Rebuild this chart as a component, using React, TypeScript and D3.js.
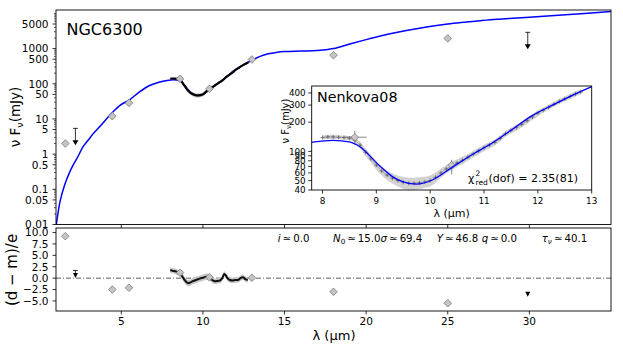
import React from 'react';
import * as d3 from 'd3';

// ---------- data ----------
const modelLam = [1.0, 1.1, 1.2, 1.35, 1.5, 1.65, 1.8, 2.0, 2.3, 2.65, 3.0, 3.3, 3.7, 4.1, 4.5, 4.9, 5.5, 6.1, 6.7, 7.3, 7.8, 8.2, 8.5, 8.7, 9.05, 9.3, 9.5, 9.75, 10.05, 10.4, 10.8, 11.15, 11.5, 11.9, 12.3, 12.65, 13.0, 13.5, 14.0, 14.5, 15.0, 16.0, 17.0, 18.0, 19.0, 20.0, 21.0, 22.0, 23.0, 24.0, 25.0, 26.0, 27.0, 28.0, 29.0, 30.0, 32.0, 34.0, 35.0];
const modelFlux = [0.009, 0.018, 0.035, 0.07, 0.12, 0.19, 0.28, 0.44, 0.78, 1.6, 2.6, 3.9, 6.2, 10.2, 16, 24, 35, 58, 88, 110, 124, 130, 125, 111, 72, 55, 48.5, 46, 51, 68, 94, 122, 165, 235, 305, 380, 465, 600, 710, 780, 820, 850, 880, 1000, 1350, 1800, 2350, 2950, 3600, 4300, 5000, 5600, 6200, 6800, 7300, 7800, 9000, 10500, 11300];

const specLam = [8.0, 8.1, 8.2, 8.3, 8.4, 8.5, 8.6, 8.7, 8.8, 8.9, 9.0, 9.1, 9.2, 9.3, 9.4, 9.5, 9.6, 9.7, 9.8, 9.9, 10.0, 10.1, 10.2, 10.3, 10.4, 10.5, 10.6, 10.7, 10.8, 10.9, 11.0, 11.1, 11.2, 11.3, 11.4, 11.5, 11.6, 11.7, 11.8, 11.9, 12.0, 12.1, 12.2, 12.3, 12.4, 12.5, 12.6, 12.7, 12.8];
const specFlux = [139, 141, 141, 140, 139, 137, 131, 116, 98, 84, 72, 63, 57, 53, 50, 48, 47, 47, 47.5, 48.5, 50, 54, 60, 66, 71, 76, 81, 87, 94, 101, 109, 116, 124, 136, 152, 164, 176, 190, 207, 226, 248, 266, 285, 306, 328, 348, 368, 392, 410];
const specErr = [0.05, 0.05, 0.05, 0.05, 0.05, 0.05, 0.06, 0.08, 0.09, 0.09, 0.1, 0.1, 0.11, 0.12, 0.13, 0.14, 0.14, 0.14, 0.14, 0.13, 0.13, 0.12, 0.11, 0.1, 0.1, 0.09, 0.09, 0.08, 0.08, 0.08, 0.08, 0.07, 0.07, 0.07, 0.07, 0.07, 0.07, 0.07, 0.07, 0.07, 0.07, 0.06, 0.06, 0.06, 0.06, 0.06, 0.06, 0.06, 0.06];

const resLam = [8.0, 8.15, 8.3, 8.45, 8.6, 8.75, 8.9, 9.0, 9.1, 9.2, 9.35, 9.5, 9.65, 9.8, 10.0, 10.2, 10.35, 10.5, 10.6, 10.75, 10.9, 11.05, 11.2, 11.3, 11.4, 11.5, 11.65, 11.8, 12.0, 12.15, 12.3, 12.45, 12.6, 12.75];
const resVal = [1.8, 1.6, 1.5, 1.3, 1.0, 0.3, -0.5, -0.9, -1.1, -1.0, -0.7, -0.5, -0.3, -0.1, 0.1, 0.3, 0.2, -0.2, -0.5, -0.7, -0.6, -0.5, 0.1, 0.9, 0.6, 0.0, -0.4, -0.5, -0.4, -0.4, 0.0, 0.2, -0.2, -0.4];
const resErr = [0.6, 0.6, 0.6, 0.6, 0.6, 0.7, 0.7, 0.7, 0.7, 0.7, 0.7, 0.7, 0.7, 0.7, 0.7, 0.7, 0.7, 0.6, 0.6, 0.6, 0.6, 0.6, 0.6, 0.6, 0.6, 0.6, 0.6, 0.6, 0.6, 0.6, 0.6, 0.6, 0.6, 0.6];

const photLam = [1.57, 4.45, 5.47, 8.6, 10.4, 13.0, 18.0, 25.0];
const photFlux = [2.0, 12.0, 28.6, 138, 72, 490, 650, 1950];
const photErr = [0.15, 1.8, 3.0, 10, 6, 30, 40, 120];
const photResid = [9.2, -2.5, -2.1, 1.2, 0.2, 0.1, -3.0, -5.5];

const ulLam = [2.19, 29.9];
const ulFlux = [5.4, 2900];
const ulResid = [0.6, -3.5];
const ulResidTop = [1.7, -3.5];

const insetPhotLam = [8.6, 10.4];
const insetPhotFlux = [140, 72];
const insetPhotXErr = [0.22, 0.0];
const insetPhotYLo = [116, 58];
const insetPhotYHi = [163, 82];

const mainYTicks = [0.01, 0.05, 0.1, 0.5, 1, 5, 10, 50, 100, 500, 1000, 5000];
const xTicks = [5, 10, 15, 20, 25, 30];
const residTicks = [-5, -2.5, 0, 2.5, 5, 7.5, 10];
const insetXTicks = [8, 9, 10, 11, 12, 13];
const insetYTicks = [40, 50, 60, 70, 80, 90, 100, 200, 300, 400];

// ---------- layout ----------
const W = 623, H = 346;
const L = 56, R = 611, T1 = 10, B1 = 224.5, T2 = 228, B2 = 311;
const IL = 311.7, IR = 591.7, IT = 86, IB = 190;
const FONT = 'DejaVu Sans, sans-serif';
const TICK_FS = 10.5;
const TS = '\u2009';

const x = d3.scaleLinear().domain([1, 35]).range([L, R]);
const yTop = d3.scaleLog().domain([0.01, 12500]).range([B1, T1]);
const yRes = d3.scaleLinear().domain([-7.2, 11]).range([B2, T2]);
const xIn = d3.scaleLinear().domain([7.8, 13]).range([IL, IR]);
const yIn = d3.scaleLog().domain([40, 472]).range([IB, IT]);

const diamond = (cx: number, cy: number, r = 3.8) =>
  `M${cx},${cy - r}L${cx + r},${cy}L${cx},${cy + r}L${cx - r},${cy}Z`;
const triDown = (cx: number, cy: number, w = 5, h = 5) =>
  `M${cx - w / 2},${cy - h / 2}L${cx + w / 2},${cy - h / 2}L${cx},${cy + h / 2}Z`;

const fmtLog = (v: number) => String(v);
const fmtRes = (v: number) => d3.format('.1f')(v).replace('-', '\u2212');

export default function App() {
  const model = modelLam.map((l, i) => [l, modelFlux[i]] as [number, number]);
  const spec = specLam.map((l, i) => ({ l, f: specFlux[i], e: specErr[i] }));
  const res = resLam.map((l, i) => ({ l, v: resVal[i], e: resErr[i] }));

  const modelLine = d3.line<[number, number]>().x(d => x(d[0])).y(d => yTop(d[1])).curve(d3.curveMonotoneX);
  const modelInLine = d3.line<[number, number]>().x(d => xIn(d[0])).y(d => yIn(d[1])).curve(d3.curveMonotoneX);
  const specLineMain = d3.line<any>().x(d => x(d.l)).y(d => yTop(d.f)).curve(d3.curveMonotoneX);
  const specBandMain = d3.area<any>().x(d => x(d.l)).y0(d => yTop(d.f * (1 - d.e))).y1(d => yTop(d.f * (1 + d.e))).curve(d3.curveMonotoneX);
  const specBandIn = d3.area<any>().x(d => xIn(d.l)).y0(d => yIn(d.f * (1 - d.e))).y1(d => yIn(d.f * (1 + d.e))).curve(d3.curveMonotoneX);
  const specLineIn = d3.line<any>().x(d => xIn(d.l)).y(d => yIn(d.f)).curve(d3.curveMonotoneX);
  const resLine = d3.line<any>().x(d => x(d.l)).y(d => yRes(d.v)).curve(d3.curveMonotoneX);
  const resBand = d3.area<any>().x(d => x(d.l)).y0(d => yRes(d.v - d.e)).y1(d => yRes(d.v + d.e)).curve(d3.curveMonotoneX);

  const minorTicks = yTop.ticks().filter(t => !mainYTicks.some(m => Math.abs(m - t) / t < 1e-6));

  return (
    <svg width={W} height={H} style={{ position: 'absolute', left: 0, top: 0, background: '#fff' }} fontFamily={FONT}>
      <defs>
        <clipPath id="clipMain"><rect x={L} y={T1} width={R - L} height={B1 - T1} /></clipPath>
        <clipPath id="clipRes"><rect x={L} y={T2} width={R - L} height={B2 - T2} /></clipPath>
        <clipPath id="clipIn"><rect x={IL} y={IT} width={IR - IL} height={IB - IT} /></clipPath>
      </defs>
      <rect x={0} y={0} width={W} height={H} fill="#fff" />

      {/* ---------- main panel ---------- */}
      <g clipPath="url(#clipMain)">
        <path d={modelLine(model) || ''} fill="none" stroke="#0000ff" strokeWidth={1.5} />
        <path d={specBandMain(spec) || ''} fill="#9a9a9a" opacity={0.6} />
        <path d={specLineMain(spec) || ''} fill="none" stroke="#000" strokeWidth={2.2} />
        {photLam.map((l, i) => (
          <g key={'p' + i}>
            <line x1={x(l)} x2={x(l)} y1={yTop(photFlux[i] - photErr[i])} y2={yTop(photFlux[i] + photErr[i])} stroke="#666" strokeWidth={0.8} />
            <path d={diamond(x(l), yTop(photFlux[i]))} fill="#c4c4c4" stroke="#7a7a7a" strokeWidth={0.8} />
          </g>
        ))}
        {ulLam.map((l, i) => {
          const cx = x(l), cy = yTop(ulFlux[i]), tip = cy + 17;
          return (
            <g key={'u' + i}>
              <line x1={cx - 2.5} x2={cx + 2.5} y1={cy} y2={cy} stroke="#000" strokeWidth={0.8} />
              <line x1={cx} x2={cx} y1={cy} y2={tip - 3} stroke="#000" strokeWidth={0.8} />
              <path d={`M${cx - 3},${tip - 5}L${cx + 3},${tip - 5}L${cx},${tip}Z`} fill="#000" />
            </g>
          );
        })}
      </g>
      {/* main axes */}
      <rect x={L} y={T1} width={R - L} height={B1 - T1} fill="none" stroke="#000" strokeWidth={0.9} />
      {mainYTicks.map(t => (
        <g key={'my' + t}>
          <line x1={L - 3.5} x2={L} y1={yTop(t)} y2={yTop(t)} stroke="#000" strokeWidth={0.8} />
          <text x={L - 7.5} y={yTop(t)} dy="0.36em" textAnchor="end" fontSize={TICK_FS}>{fmtLog(t)}</text>
        </g>
      ))}
      {minorTicks.map(t => (
        <line key={'mm' + t} x1={L - 2} x2={L} y1={yTop(t)} y2={yTop(t)} stroke="#000" strokeWidth={0.6} />
      ))}
      {xTicks.map(t => (
        <line key={'mx' + t} x1={x(t)} x2={x(t)} y1={B1} y2={B1 + 3.5} stroke="#000" strokeWidth={0.8} />
      ))}
      <text x={66.5} y={35} fontSize={16}>NGC6300</text>
      <text transform={`translate(20,117) rotate(-90)`} textAnchor="middle" fontSize={13.5}>
        <tspan>ν F</tspan><tspan fontSize={9.5} dy={3}>ν</tspan><tspan dy={-3}>(mJy)</tspan>
      </text>

      {/* ---------- inset ---------- */}
      <rect x={IL} y={IT} width={IR - IL} height={IB - IT} fill="#fff" />
      <g clipPath="url(#clipIn)">
        <path d={specBandIn(spec) || ''} fill="#d2d2d2" />
        <path d={specLineIn(spec) || ''} fill="none" stroke="#888" strokeWidth={0.6} />
        {spec.map((d, i) => (
          <g key={'c' + i} stroke="#555" strokeWidth={0.7}>
            <line x1={xIn(d.l) - 2} x2={xIn(d.l) + 2} y1={yIn(d.f)} y2={yIn(d.f)} />
            <line x1={xIn(d.l)} x2={xIn(d.l)} y1={yIn(d.f) - 2} y2={yIn(d.f) + 2} />
          </g>
        ))}
        {insetPhotLam.map((l, i) => (
          <g key={'ip' + i}>
            {insetPhotXErr[i] > 0 && (
              <line x1={xIn(l - insetPhotXErr[i])} x2={xIn(l + insetPhotXErr[i])} y1={yIn(insetPhotFlux[i])} y2={yIn(insetPhotFlux[i])} stroke="#777" strokeWidth={0.9} />
            )}
            <line x1={xIn(l)} x2={xIn(l)} y1={yIn(insetPhotYLo[i])} y2={yIn(insetPhotYHi[i])} stroke="#777" strokeWidth={0.9} />
            <path d={diamond(xIn(l), yIn(insetPhotFlux[i]), 3.8)} fill="#c8c8c8" stroke="#808080" strokeWidth={0.8} />
          </g>
        ))}
        <path d={modelInLine(model.filter(d => d[0] >= 7.3 && d[0] <= 13.5)) || ''} fill="none" stroke="#0000ff" strokeWidth={1.3} />
      </g>
      <rect x={IL} y={IT} width={IR - IL} height={IB - IT} fill="none" stroke="#000" strokeWidth={0.9} />
      {insetXTicks.map(t => (
        <g key={'ix' + t}>
          <line x1={xIn(t)} x2={xIn(t)} y1={IB} y2={IB + 3.5} stroke="#000" strokeWidth={0.8} />
          <text x={xIn(t)} y={204} textAnchor="middle" fontSize={8.8}>{t}</text>
        </g>
      ))}
      {insetYTicks.map(t => (
        <g key={'iy' + t}>
          <line x1={IL - 3.5} x2={IL} y1={yIn(t)} y2={yIn(t)} stroke="#000" strokeWidth={0.8} />
          <text x={IL - 6} y={yIn(t)} dy="0.36em" textAnchor="end" fontSize={8.8}>{t}</text>
        </g>
      ))}
      <text x={317} y={101.5} fontSize={14.3}>Nenkova08</text>
      <text transform={`translate(288.5,121) rotate(-90)`} textAnchor="middle" fontSize={10}>
        <tspan>ν F</tspan><tspan fontSize={7} dy={2.5}>ν</tspan><tspan dy={-2.5}>(mJy)</tspan>
      </text>
      <text x={(IL + IR) / 2} y={216.5} textAnchor="middle" fontSize={11}>λ (μm)</text>
      <text x={468} y={181.7} fontSize={11}>χ</text>
      <text x={475.5} y={176} fontSize={7.5}>2</text>
      <text x={475.5} y={184.5} fontSize={7.5}>red</text>
      <text x={488.5} y={181.7} fontSize={11}>(dof) = 2.35(81)</text>

      {/* ---------- residual panel ---------- */}
      <g clipPath="url(#clipRes)">
        <line x1={L} x2={R} y1={yRes(0)} y2={yRes(0)} stroke="#333" strokeWidth={0.8} strokeDasharray="5,2,1,2" />
        <path d={resBand(res) || ''} fill="#c8c8c8" />
        <path d={resLine(res) || ''} fill="none" stroke="#111" strokeWidth={2} />
        {photLam.map((l, i) => (
          <path key={'rp' + i} d={diamond(x(l), yRes(photResid[i]))} fill="#c4c4c4" stroke="#7a7a7a" strokeWidth={0.8} />
        ))}
        {ulLam.map((l, i) => {
          const cx = x(l), cy = yRes(ulResid[i]), top = yRes(ulResidTop[i]);
          return (
            <g key={'ru' + i}>
              {top < cy - 1 && (
                <g stroke="#000" strokeWidth={0.8}>
                  <line x1={cx} x2={cx} y1={top} y2={cy} />
                  <line x1={cx - 2.5} x2={cx + 2.5} y1={top} y2={top} />
                </g>
              )}
              <path d={triDown(cx, cy)} fill="#000" />
            </g>
          );
        })}
      </g>
      <rect x={L} y={T2} width={R - L} height={B2 - T2} fill="none" stroke="#000" strokeWidth={0.9} />
      {residTicks.map(t => (
        <g key={'ry' + t}>
          <line x1={L - 3.5} x2={L} y1={yRes(t)} y2={yRes(t)} stroke="#000" strokeWidth={0.8} />
          <text x={L - 7.5} y={yRes(t)} dy="0.36em" textAnchor="end" fontSize={TICK_FS}>{fmtRes(t)}</text>
        </g>
      ))}
      {xTicks.map(t => (
        <g key={'rx' + t}>
          <line x1={x(t)} x2={x(t)} y1={B2} y2={B2 + 3.5} stroke="#000" strokeWidth={0.8} />
          <text x={x(t)} y={325} textAnchor="middle" fontSize={TICK_FS}>{t}</text>
        </g>
      ))}
      <text x={334} y={340} textAnchor="middle" fontSize={13}>λ (μm)</text>
      <text transform={`translate(17,270) rotate(-90)`} textAnchor="middle" fontSize={15}>(d − m)/e</text>

      <g fontSize={10.2}>
        <text x={277.7} y={241.7}><tspan fontStyle="italic">i</tspan>{TS}≃{TS}0.0</text>
        <text x={333} y={241.7}>
          <tspan fontStyle="italic">N</tspan><tspan fontSize={7.2} dy={2}>0</tspan><tspan dy={-2}>{TS}≃{TS}15.0</tspan><tspan fontStyle="italic">σ</tspan>{TS}≃{TS}69.4
        </text>
        <text x={436.7} y={241.7}><tspan fontStyle="italic">Y</tspan>{TS}≃{TS}46.8</text>
        <text x={481.7} y={241.7}><tspan fontStyle="italic">q</tspan>{TS}≃{TS}0.0</text>
        <text x={541.7} y={241.7}>
          <tspan fontStyle="italic">τ</tspan><tspan fontSize={7.2} dy={2} fontStyle="italic">ν</tspan><tspan dy={-2}>{TS}≃{TS}40.1</tspan>
        </text>
      </g>
    </svg>
  );
}
